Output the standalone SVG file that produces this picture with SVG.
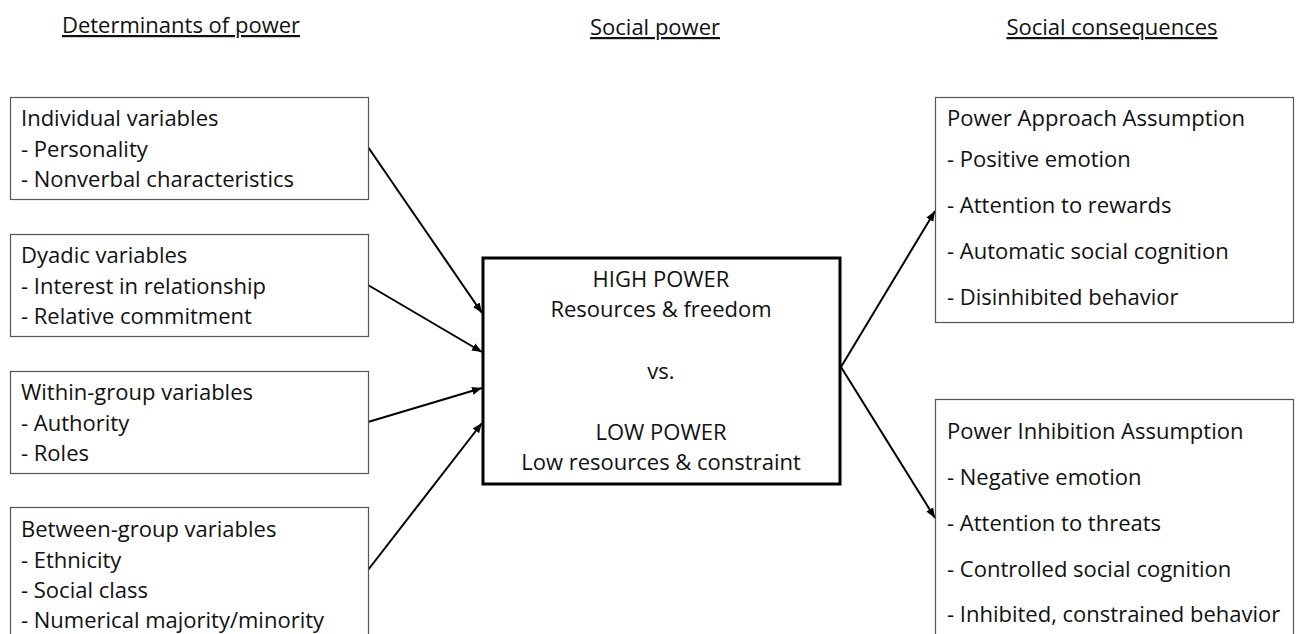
<svg xmlns="http://www.w3.org/2000/svg" width="1299" height="634" viewBox="0 0 1299 634">
  <style>
    text { font-family: "Open Sans", Lato, "Liberation Sans", sans-serif; font-size: 22px; fill: #111; }
    .hdr { text-decoration: underline; }
    .mid { text-anchor: middle; }
    .box { fill: #fff; stroke: #555; stroke-width: 1.2; }
    .core { fill: #fff; stroke: #000; stroke-width: 3; }
    .link { stroke: #000; stroke-width: 2; fill: none; marker-end: url(#tip); }
  </style>
  <defs>
    <marker id="tip" viewBox="0 0 10 10" refX="10" refY="5" markerWidth="5" markerHeight="5" orient="auto" markerUnits="strokeWidth">
      <path d="M0,1 L10,5 L0,9 z" fill="#000"/>
    </marker>
  </defs>
  <rect width="1299" height="634" fill="#fff"/>

  <!-- column headings -->
  <g id="headings">
    <text class="hdr mid" x="181" y="33">Determinants of power</text>
    <text class="hdr mid" x="655" y="35">Social power</text>
    <text class="hdr mid" x="1112" y="35">Social consequences</text>
  </g>

  <!-- connectors -->
  <g id="connectors">
    <line class="link" x1="368" y1="147" x2="482" y2="313"/>
    <line class="link" x1="368" y1="285" x2="482" y2="352"/>
    <line class="link" x1="368" y1="422" x2="482" y2="388"/>
    <line class="link" x1="368" y1="570" x2="482" y2="423"/>
    <line class="link" x1="841" y1="367" x2="935" y2="211"/>
    <line class="link" x1="841" y1="367" x2="935" y2="518"/>
  </g>

  <g id="individual">
    <rect class="box" x="10.5" y="97.5" width="358" height="102"/>
    <text x="21" y="126">Individual variables</text>
    <text x="21" y="157">- Personality</text>
    <text x="21" y="187">- Nonverbal characteristics</text>
  </g>

  <g id="dyadic">
    <rect class="box" x="10.5" y="234.5" width="358" height="102"/>
    <text x="21" y="263">Dyadic variables</text>
    <text x="21" y="294">- Interest in relationship</text>
    <text x="21" y="324">- Relative commitment</text>
  </g>

  <g id="within-group">
    <rect class="box" x="10.5" y="371.5" width="358" height="102"/>
    <text x="21" y="400">Within-group variables</text>
    <text x="21" y="431">- Authority</text>
    <text x="21" y="461">- Roles</text>
  </g>

  <g id="between-group">
    <rect class="box" x="10.5" y="507.5" width="358" height="140"/>
    <text x="21" y="537">Between-group variables</text>
    <text x="21" y="568">- Ethnicity</text>
    <text x="21" y="598">- Social class</text>
    <text x="21" y="628">- Numerical majority/minority</text>
  </g>

  <g id="social-power">
    <rect class="core" x="483" y="258" width="357" height="226"/>
    <text class="mid" x="661" y="287">HIGH POWER</text>
    <text class="mid" x="661" y="317">Resources &amp; freedom</text>
    <text class="mid" x="661" y="379">vs.</text>
    <text class="mid" x="661" y="440">LOW POWER</text>
    <text class="mid" x="661" y="470">Low resources &amp; constraint</text>
  </g>

  <g id="approach">
    <rect class="box" x="935.5" y="97.5" width="358" height="225"/>
    <text x="947" y="126">Power Approach Assumption</text>
    <text x="947" y="167">- Positive emotion</text>
    <text x="947" y="213">- Attention to rewards</text>
    <text x="947" y="259">- Automatic social cognition</text>
    <text x="947" y="305">- Disinhibited behavior</text>
  </g>

  <g id="inhibition">
    <rect class="box" x="935.5" y="399.5" width="358" height="250"/>
    <text x="947" y="439">Power Inhibition Assumption</text>
    <text x="947" y="485">- Negative emotion</text>
    <text x="947" y="531">- Attention to threats</text>
    <text x="947" y="577">- Controlled social cognition</text>
    <text x="947" y="622">- Inhibited, constrained behavior</text>
  </g>
</svg>
